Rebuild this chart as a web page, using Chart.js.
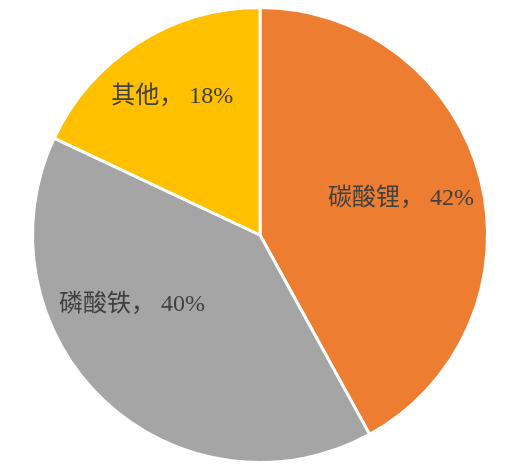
<!DOCTYPE html>
<html>
<head>
<meta charset="utf-8">
<script src="https://cdn.jsdelivr.net/npm/chart.js@4/dist/chart.umd.min.js"></script>
<style>
  html, body { margin: 0; padding: 0; background: #fff; }
  #box { width: 517px; height: 470px; }
</style>
</head>
<body>
<div id="box"><canvas id="pie"></canvas></div>
<script>
var categories = ['碳酸锂', '磷酸铁', '其他'];
var shares = [42, 40, 18];
var colores = ['#ED7D31', '#A5A5A5', '#FFC000'];

// label placement per slice: radius fraction and angle nudge (radians)
var labelPos = [
  { r: 0.64, da: 0.0 },
  { r: 0.64, da: 0.32 },
  { r: 0.72, da: 0.0 }
];

var labelPlugin = {
  id: 'labelPlugin',
  afterDatasetsDraw: function (chart) {
    var ctx = chart.ctx;
    var meta = chart.getDatasetMeta(0);
    ctx.save();
    ctx.font = '24px "Liberation Serif", "Noto Sans CJK SC", serif';
    ctx.fillStyle = '#404040';
    ctx.textAlign = 'center';
    ctx.textBaseline = 'middle';
    meta.data.forEach(function (arc, i) {
      var p = arc.getProps(['x', 'y', 'startAngle', 'endAngle', 'outerRadius'], true);
      var mid = (p.startAngle + p.endAngle) / 2 + labelPos[i].da;
      var rr = p.outerRadius * labelPos[i].r;
      var tx = p.x + Math.cos(mid) * rr;
      var ty = p.y + Math.sin(mid) * rr;
      ctx.fillText(categories[i] + '， ' + shares[i] + '%', tx, ty);
    });
    ctx.restore();
  }
};

var ctx = document.getElementById('pie').getContext('2d');
var chart = new Chart(ctx, {
  type: 'pie',
  data: {
    labels: categories,
    datasets: [{
      data: shares,
      backgroundColor: colores,
      borderColor: '#ffffff',
      borderWidth: 3
    }]
  },
  options: {
    responsive: true,
    maintainAspectRatio: false,
    animation: false,
    layout: { padding: { top: 6, bottom: 6, left: 3, right: 0 } },
    plugins: {
      legend: { display: false },
      tooltip: { enabled: false }
    }
  },
  plugins: [labelPlugin]
});
</script>
</body>
</html>
